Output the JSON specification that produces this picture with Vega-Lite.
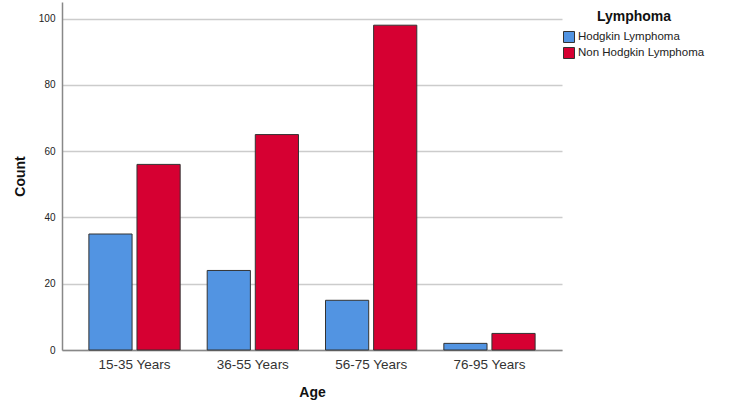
{
  "$schema": "https://vega.github.io/schema/vega-lite/v6.json",
  "width": 500,
  "height": 348,
  "autosize": {"type": "none"},
  "padding": {"left": 62, "top": 2, "right": 188, "bottom": 62},
  "background": "white",
  "config": {
    "font": "Liberation Sans",
    "view": {"stroke": null}
  },
  "data": {
    "values": [
      {"Age": "15-35 Years", "Lymphoma": "Hodgkin Lymphoma", "Count": 35},
      {"Age": "15-35 Years", "Lymphoma": "Non Hodgkin Lymphoma", "Count": 56},
      {"Age": "36-55 Years", "Lymphoma": "Hodgkin Lymphoma", "Count": 24},
      {"Age": "36-55 Years", "Lymphoma": "Non Hodgkin Lymphoma", "Count": 65},
      {"Age": "56-75 Years", "Lymphoma": "Hodgkin Lymphoma", "Count": 15},
      {"Age": "56-75 Years", "Lymphoma": "Non Hodgkin Lymphoma", "Count": 98},
      {"Age": "76-95 Years", "Lymphoma": "Hodgkin Lymphoma", "Count": 2},
      {"Age": "76-95 Years", "Lymphoma": "Non Hodgkin Lymphoma", "Count": 5}
    ]
  },
  "mark": {"type": "bar", "stroke": "#333333", "strokeWidth": 1},
  "encoding": {
    "x": {
      "field": "Age",
      "type": "nominal",
      "scale": {"paddingInner": 0, "paddingOuter": 0.113},
      "axis": {
        "title": "Age",
        "titleFontSize": 14,
        "titleFontWeight": "bold",
        "titleColor": "#111111",
        "titlePadding": 15,
        "labelAngle": 0,
        "labelFontSize": 13.5,
        "labelColor": "#333333",
        "labelPadding": 7,
        "ticks": false,
        "domainColor": "#888888",
        "domainWidth": 1.5
      }
    },
    "xOffset": {
      "field": "Lymphoma",
      "type": "nominal",
      "scale": {"paddingInner": 0.102, "paddingOuter": 0.281}
    },
    "y": {
      "field": "Count",
      "type": "quantitative",
      "scale": {"domain": [0, 105], "nice": false},
      "axis": {
        "title": "Count",
        "titleFontSize": 14,
        "titleFontWeight": "bold",
        "titleColor": "#111111",
        "titlePadding": 11,
        "values": [0, 20, 40, 60, 80, 100],
        "labelFontSize": 10,
        "labelColor": "#222222",
        "labelPadding": 7,
        "ticks": false,
        "domainColor": "#888888",
        "domainWidth": 1.5,
        "grid": true,
        "gridColor": "#cccccc",
        "gridWidth": 1.5
      }
    },
    "color": {
      "field": "Lymphoma",
      "type": "nominal",
      "scale": {
        "domain": ["Hodgkin Lymphoma", "Non Hodgkin Lymphoma"],
        "range": ["#5294E2", "#D60032"]
      },
      "legend": {
        "title": "Lymphoma",
        "orient": "none",
        "legendX": 501,
        "legendY": 8,
        "titleFontSize": 14,
        "titleFontWeight": "bold",
        "titleColor": "#111111",
        "titleAnchor": "middle",
        "titlePadding": 7,
        "symbolType": "square",
        "symbolSize": 121,
        "symbolStrokeWidth": 1,
        "symbolStrokeColor": "#333333",
        "labelFontSize": 11.5,
        "labelColor": "#222222",
        "labelOffset": 3,
        "rowPadding": 0
      }
    }
  }
}
